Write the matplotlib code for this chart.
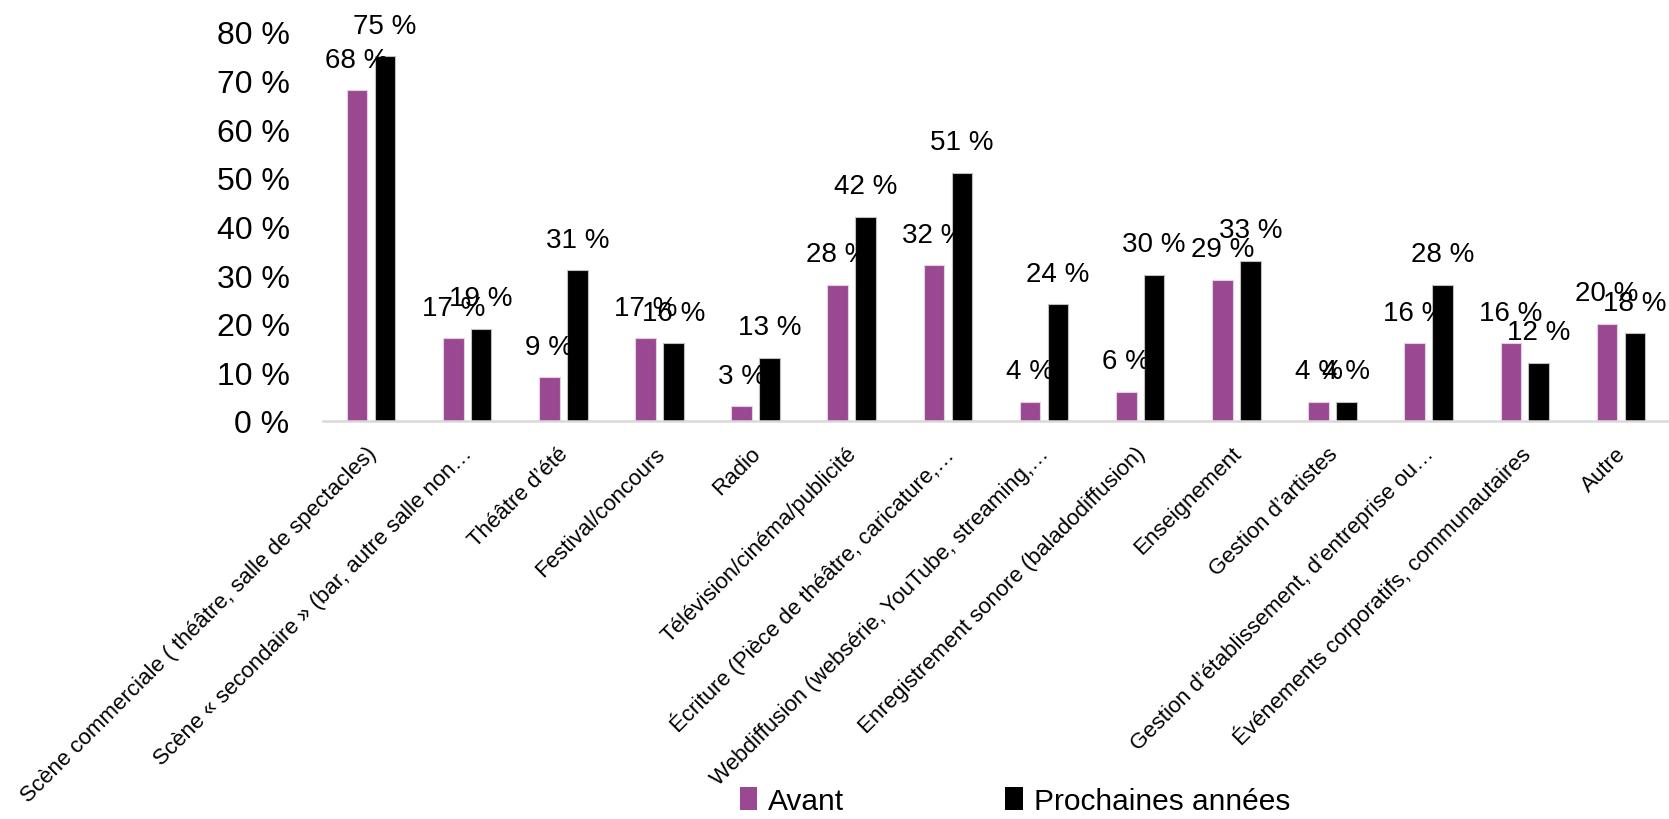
import matplotlib
matplotlib.use("Agg")
import matplotlib.pyplot as plt
import numpy as np
from matplotlib.transforms import ScaledTranslation
from matplotlib.patches import Patch

plt.rcParams['font.family'] = ['Liberation Sans', 'DejaVu Sans']

categories = [
    "Scène commerciale ( théâtre, salle de spectacles)",
    "Scène « secondaire » (bar, autre salle non…",
    "Théâtre d’été",
    "Festival/concours",
    "Radio",
    "Télévision/cinéma/publicité",
    "Écriture (Pièce de théâtre, caricature,…",
    "Webdiffusion (websérie, YouTube, streaming,…",
    "Enregistrement sonore (baladodiffusion)",
    "Enseignement",
    "Gestion d’artistes",
    "Gestion d’établissement, d’entreprise ou…",
    "Événements corporatifs, communautaires",
    "Autre",
]
avant = [68, 17, 9, 17, 3, 28, 32, 4, 6, 29, 4, 16, 16, 20]
prochaines = [75, 19, 31, 16, 13, 42, 51, 24, 30, 33, 4, 28, 12, 18]
series_names = ["Avant", "Prochaines années"]
yticks = [0, 10, 20, 30, 40, 50, 60, 70, 80]
ytick_labels = [f"{v} %" for v in yticks]

c_avant = "#9a4891"
c_proch = "#000000"

fig = plt.figure(figsize=(16.69, 8.20), dpi=100)
ax = fig.add_axes([0.1935, 0.4854, 0.8065, 0.4744])

x = np.arange(len(categories))
w = 0.215
off = 0.145
b1 = ax.bar(x - off, avant, width=w, color=c_avant, edgecolor="#e6d0e3", linewidth=0.8)
b2 = ax.bar(x + off, prochaines, width=w, color=c_proch, edgecolor="#bfbfbf", linewidth=0.8)

for bars, vals in ((b1, avant), (b2, prochaines)):
    for rect, v in zip(bars, vals):
        ax.annotate(f"{v} %", (rect.get_x() + rect.get_width() / 2, rect.get_height()),
                    xytext=(0, 17), textcoords="offset points",
                    ha="center", va="baseline", fontsize=20, color="black")

ax.set_xlim(-0.5, len(categories) - 0.5)
ax.set_ylim(0, 80)
ax.set_yticks(yticks)
ax.set_yticklabels(ytick_labels, fontsize=23)
ax.tick_params(axis="y", length=0, pad=24)
ax.set_xticks(x)
ax.set_xticklabels(categories, fontsize=16, rotation=45, ha="right", va="center",
                   rotation_mode="anchor")
ax.tick_params(axis="x", length=0, pad=21)
shift = ScaledTranslation(2 / 100, 0, fig.dpi_scale_trans)
for lab in ax.get_xticklabels():
    lab.set_transform(lab.get_transform() + shift)

for s in ("top", "right", "left"):
    ax.spines[s].set_visible(False)
ax.spines["bottom"].set_color("#d9d9d9")
ax.spines["bottom"].set_linewidth(1.8)

handles = [Patch(facecolor=c_avant, edgecolor="none"), Patch(facecolor=c_proch, edgecolor="none")]
fig.legend(handles, series_names, loc="center", bbox_to_anchor=(0.608, 0.022), ncol=2,
           frameon=False, fontsize=21.5, handlelength=0.6, handleheight=0.8,
           handletextpad=0.35, columnspacing=5.4, borderpad=0)

fig.savefig("out.png", dpi=100)
